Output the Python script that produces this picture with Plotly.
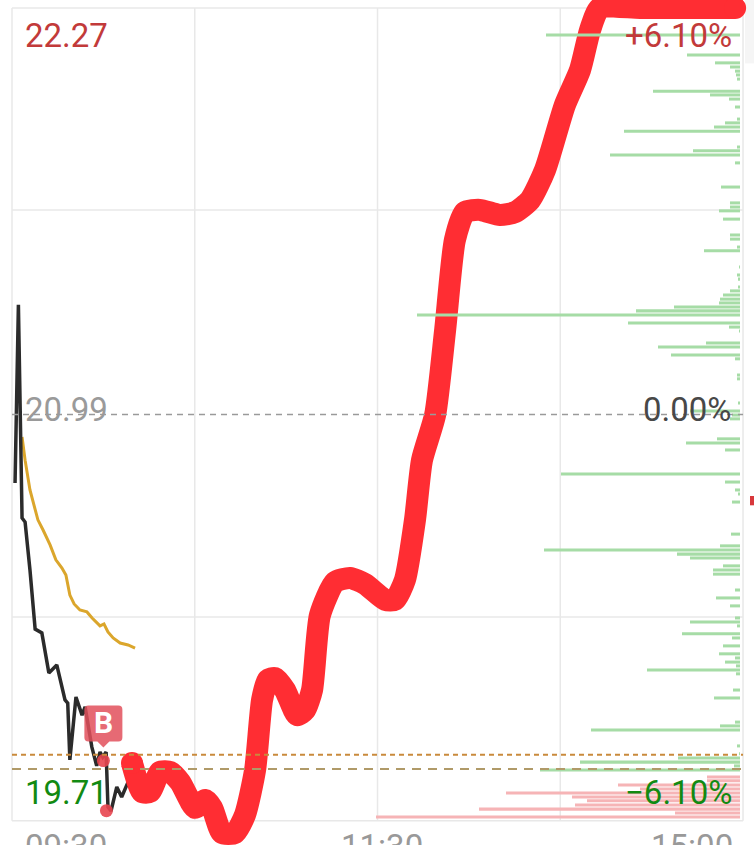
import plotly.graph_objects as go

# Time is minutes since the open (0 = 09:30, 240 = 15:00 on a compressed session axis)
price_t = [1.0,2.1,3.3,4.3,5.9,7.6,9.8,11.4,12.1,14.7,17.4,18.3,19.0,21.0,23.0,24.0,26.2,27.8,28.9,29.8,30.9,31.5,32.5,34.4,36.0,38.1]
price_v = [20.774,21.335,20.664,20.651,20.500,20.314,20.302,20.207,20.176,20.201,20.091,20.081,19.902,20.100,20.043,20.069,19.943,19.883,19.927,19.911,19.927,19.754,19.741,19.817,19.785,19.832]

avg_t = [3.3,4.3,5.9,8.5,10.2,12.5,14.4,16.4,17.7,19.0,20.4,22.3,24.6,26.3,28.9,30.2,31.5,33.2,35.5,38.1,40.4]
avg_v = [20.919,20.846,20.752,20.658,20.626,20.579,20.532,20.506,20.484,20.421,20.393,20.374,20.368,20.349,20.324,20.330,20.305,20.286,20.270,20.264,20.254]

scribble_t = [39.4,42.7,45.3,48.6,51.9,55.2,60.1,63.4,65.7,68.9,73.2,76.5,79.8,82.1,84.0,86.3,89.6,93.6,96.2,98.5,101.1,106.0,111.0,115.9,122.5,125.7,129.0,132.3,134.6,138.9,142.2,145.4,148.7,153.6,160.2,165.1,170.1,175.0,181.5,186.5,189.8,193.0,206.2,237.4]
scribble_v = [19.892,19.801,19.801,19.864,19.864,19.832,19.751,19.776,19.751,19.672,19.672,19.729,19.870,20.091,20.154,20.160,20.122,20.043,20.059,20.122,20.358,20.462,20.475,20.456,20.406,20.406,20.469,20.658,20.846,20.988,21.256,21.539,21.627,21.634,21.618,21.627,21.665,21.760,21.964,22.075,22.201,22.27,22.27,22.27]

green_levels = [22.185,22.122,22.097,22.084,22.071,22.059,22.046,22.008,21.996,21.983,21.958,21.920,21.908,21.895,21.882,21.832,21.820,21.807,21.782,21.706,21.656,21.643,21.631,21.605,21.555,21.542,21.517,21.505,21.454,21.429,21.416,21.391,21.379,21.366,21.353,21.341,21.328,21.316,21.303,21.278,21.265,21.253,21.215,21.202,21.177,21.165,21.114,21.102,21.026,21.001,20.988,20.976,20.913,20.900,20.878,20.802,20.777,20.752,20.739,20.714,20.613,20.576,20.563,20.550,20.538,20.513,20.500,20.487,20.437,20.412,20.387,20.349,20.336,20.324,20.299,20.286,20.261,20.236,20.223,20.210,20.198,20.185,20.173,20.122,20.097,20.021,20.009,19.996,19.946,19.921,19.908,19.895,19.883,19.870]
green_volume = [194,53,25,10,5,4,3,87,30,11,5,3,15,26,116,3,47,130,5,19,10,10,21,17,10,10,3,36,1,3,2,2,10,17,20,21,66,104,323,112,11,1,34,82,69,5,3,3,2,50,8,10,23,54,15,179,15,5,2,8,9,20,196,63,50,17,27,27,5,24,10,5,50,3,58,8,17,21,5,15,4,93,4,7,26,5,20,149,3,1,62,160,6,200]

red_levels = [19.848,19.836,19.823,19.810,19.798,19.785,19.773,19.760,19.747,19.735,19.722]
red_volume = [33,33,122,100,234,168,153,165,261,65,364]

grid_times = [0, 60, 120, 180, 240]
grid_prices = [19.71, 20.352, 21.634, 22.27]
prev_close = 20.99
buy_point = (30.0, 19.90)
low_point = (31.0, 19.742)
ref_lines = [19.918, 19.873]

fig = go.Figure()
fig.add_bar(y=green_levels, x=green_volume, orientation="h", xaxis="x2", yaxis="y", width=0.0095,
            marker=dict(color="#a6dca6", line=dict(width=0)), showlegend=False)
fig.add_bar(y=red_levels, x=red_volume, orientation="h", xaxis="x2", yaxis="y", width=0.0095,
            marker=dict(color="#f6b4b6", line=dict(width=0)), showlegend=False)
fig.add_scatter(x=avg_t, y=avg_v, mode="lines", line=dict(color="#dba62c", width=3), showlegend=False)
fig.add_scatter(x=price_t, y=price_v, mode="lines", line=dict(color="#2b2b2b", width=3.5), showlegend=False)
fig.add_scatter(x=[buy_point[0], low_point[0]], y=[buy_point[1], low_point[1]], mode="markers",
                marker=dict(color="#e8454f", size=13, line=dict(width=0)), opacity=0.9, showlegend=False)
fig.add_scatter(x=scribble_t, y=scribble_v, mode="lines",
                line=dict(color="#ff2d33", width=22, shape="spline", smoothing=0.6), showlegend=False)
fig.add_scatter(x=[scribble_t[0], scribble_t[-1]], y=[scribble_v[0], scribble_v[-1]], mode="markers",
                marker=dict(color="#ff2d33", size=22, line=dict(width=0)), showlegend=False)

grid = dict(color="#e8e8e8", width=1.5)
shapes = []
for t in grid_times:
    shapes.append(dict(type="line", xref="x", yref="y", x0=t, x1=t, y0=grid_prices[0], y1=grid_prices[-1],
                       line=grid, layer="below"))
for p in grid_prices:
    shapes.append(dict(type="line", xref="x", yref="y", x0=grid_times[0], x1=grid_times[-1], y0=p, y1=p,
                       line=grid, layer="below"))
shapes += [
    dict(type="line", xref="x", x0=grid_times[0], x1=grid_times[-1], yref="y", y0=prev_close, y1=prev_close,
         line=dict(color="#9a9a9a", width=1.5, dash="6px,5px")),
    dict(type="line", xref="x", x0=grid_times[0], x1=grid_times[-1], yref="y", y0=ref_lines[0], y1=ref_lines[0],
         line=dict(color="#c98a3c", width=2, dash="5px,4px")),
    dict(type="line", xref="x", x0=grid_times[0], x1=grid_times[-1], yref="y", y0=ref_lines[1], y1=ref_lines[1],
         line=dict(color="#b09a68", width=2, dash="9px,7px")),
    dict(type="path", xref="x", yref="y", xsizemode="pixel", ysizemode="pixel",
         xanchor=buy_point[0], yanchor=buy_point[1],
         path="M -15 55 L 15 55 Q 19 55 19 51 L 19 23 Q 19 19 15 19 L 6 19 L 0 13 L -6 19 L -15 19 Q -19 19 -19 23 L -19 51 Q -19 55 -15 55 Z",
         fillcolor="rgba(226,80,92,0.85)", line=dict(width=0)),
    dict(type="rect", xref="paper", yref="paper", x0=0.988, x1=1, y0=0.925, y1=1,
         fillcolor="#f5f5f5", line=dict(width=0), layer="below"),
    dict(type="rect", xref="paper", yref="paper", x0=0.9947, x1=1, y0=0.402, y1=0.413,
         fillcolor="#d8383c", line=dict(width=0)),
]

def label(text, x, y, color, xanchor, size=33, yanchor="middle"):
    return dict(text=text, x=x, y=y, xref="x", yref="y", showarrow=False, xanchor=xanchor, yanchor=yanchor,
                font=dict(family="Roboto", size=size, color=color))

annotations = [
    label("22.27", 3.5, 22.184, "#c23a3a", "left"),
    label("+6.10%", 237, 22.184, "#c23a3a", "right"),
    label("20.99", 3.5, 21.005, "#9a9a9a", "left"),
    label("0.00%", 237, 21.005, "#484848", "right"),
    label("19.71", 3.5, 19.80, "#128a12", "left"),
    label("−6.10%", 237, 19.80, "#128a12", "right"),
    label("09:30", 3.5, 19.698, "#999999", "left", yanchor="top"),
    label("11:30", 107.5, 19.698, "#999999", "left", yanchor="top"),
    label("15:00", 237.5, 19.698, "#999999", "right", yanchor="top"),
    dict(text="<b>B</b>", x=buy_point[0], y=buy_point[1], xref="x", yref="y", yshift=38, showarrow=False,
         font=dict(family="Roboto", size=30, color="#ffffff")),
]

fig.update_layout(
    width=754, height=845, margin=dict(l=0, r=0, t=0, b=0, pad=0),
    paper_bgcolor="#ffffff", plot_bgcolor="rgba(0,0,0,0)", barmode="overlay", showlegend=False,
    xaxis=dict(range=[-3.94, 243.6], visible=False),
    xaxis2=dict(range=[740, -14], overlaying="x", visible=False),
    yaxis=dict(range=[19.634, 22.295], visible=False),
    shapes=shapes, annotations=annotations,
)

fig.write_html("out.html", config=dict(displayModeBar=False),
               post_script="document.body.style.margin='0';document.body.style.overflow='hidden';")
